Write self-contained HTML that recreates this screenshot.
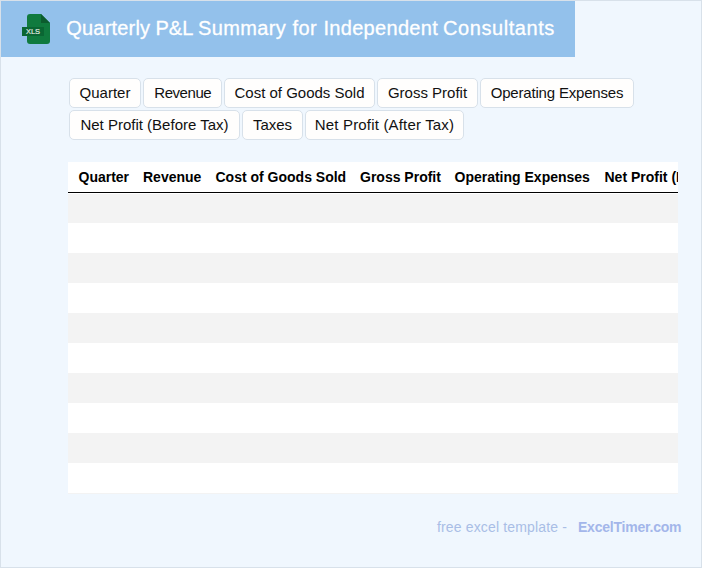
<!DOCTYPE html>
<html><head><meta charset="utf-8">
<style>
html,body{margin:0;padding:0;}
body{width:702px;height:568px;position:relative;overflow:hidden;background:#f0f7fe;font-family:"Liberation Sans",sans-serif;}
.frame{position:absolute;left:0;top:0;width:700px;height:566px;border:1px solid #d8e1ea;}
.hdr{position:absolute;left:1px;top:1px;width:574px;height:56px;background:#93c1eb;}
.title{position:absolute;left:0;top:15px;font-size:20px;line-height:24px;color:#fff;white-space:nowrap;}
.title span{position:absolute;top:0;-webkit-text-stroke:0.3px #fff;}
.chip{position:absolute;height:28px;border:1px solid #d8e1ea;border-radius:5px;background:#fffefd;box-sizing:content-box;font-size:15px;line-height:27px;color:#111;text-align:center;white-space:nowrap;}
.tbl{position:absolute;left:68px;top:162px;width:610px;height:332px;background:#fff;overflow:hidden;}
.th{position:absolute;top:7px;font-size:14px;font-weight:bold;line-height:16px;color:#000;white-space:nowrap;}
.line{position:absolute;left:0;top:30px;width:610px;height:1px;background:#000;}
.g{position:absolute;left:0;width:610px;background:#f3f3f3;}
.foot{position:absolute;top:519px;font-size:14px;line-height:16px;white-space:nowrap;}
</style></head><body>
<div class="frame"></div>
<div class="hdr">

  <div class="title"><span style="left:65.3px;letter-spacing:0.19px">Quarterly</span><span style="left:154.5px;letter-spacing:0px">P&amp;L</span><span style="left:197px;letter-spacing:0.37px">Summary</span><span style="left:291.4px;letter-spacing:0.5px">for</span><span style="left:322.4px;letter-spacing:0.32px">Independent</span><span style="left:442px;letter-spacing:0.57px">Consultants</span></div>
</div>

<svg style="position:absolute;left:0;top:0" width="60" height="56" viewBox="0 0 60 56">
  <path d="M30 14 H41 L50 23 V41 Q50 44 47 44 H30 Q27 44 27 41 V17 Q27 14 30 14 Z" fill="#107a3e"/>
  <path d="M41 14 V23 H50 Z" fill="#0c5c2e"/>
  <rect x="22" y="27" width="22" height="9" fill="#0a6633"/>
  <text x="26" y="34.2" font-family="Liberation Sans" font-size="8" textLength="14" lengthAdjust="spacingAndGlyphs" fill="#e2eae2" stroke="#e2eae2" stroke-width="0.2">XLS</text>
</svg>


<div class="chip" style="left:69px;top:78px;width:70px">Quarter</div>
<div class="chip" style="left:143px;top:78px;width:77px;letter-spacing:-0.45px;text-indent:0.45px">Revenue</div>
<div class="chip" style="left:224px;top:78px;width:149px">Cost of Goods Sold</div>
<div class="chip" style="left:377px;top:78px;width:99px">Gross Profit</div>
<div class="chip" style="left:480px;top:78px;width:152px;letter-spacing:-0.18px">Operating Expenses</div>
<div class="chip" style="left:69px;top:110px;width:169px">Net Profit (Before Tax)</div>
<div class="chip" style="left:242px;top:110px;width:59px">Taxes</div>
<div class="chip" style="left:305px;top:110px;width:157px;letter-spacing:0.17px">Net Profit (After Tax)</div>

<div class="tbl">
  <div class="th" style="left:10.5px">Quarter</div>
  <div class="th" style="left:75px">Revenue</div>
  <div class="th" style="left:147.5px">Cost of Goods Sold</div>
  <div class="th" style="left:292px">Gross Profit</div>
  <div class="th" style="left:386.5px">Operating Expenses</div>
  <div class="th" style="left:536.5px">Net Profit (Before Tax)</div>
  <div class="line"></div>
  <div class="g" style="top:32px;height:29px"></div>
  <div class="g" style="top:91px;height:30px"></div>
  <div class="g" style="top:151px;height:30px"></div>
  <div class="g" style="top:211px;height:30px"></div>
  <div class="g" style="top:271px;height:30px"></div>
  <div class="g" style="top:331px;height:1px"></div>
</div>

<div class="foot" style="left:437px;color:#a9bee6;letter-spacing:0.15px">free excel template -</div>
<div class="foot" style="left:578px;color:#a3b6ea;font-weight:bold;letter-spacing:-0.22px">ExcelTimer.com</div>
</body></html>
